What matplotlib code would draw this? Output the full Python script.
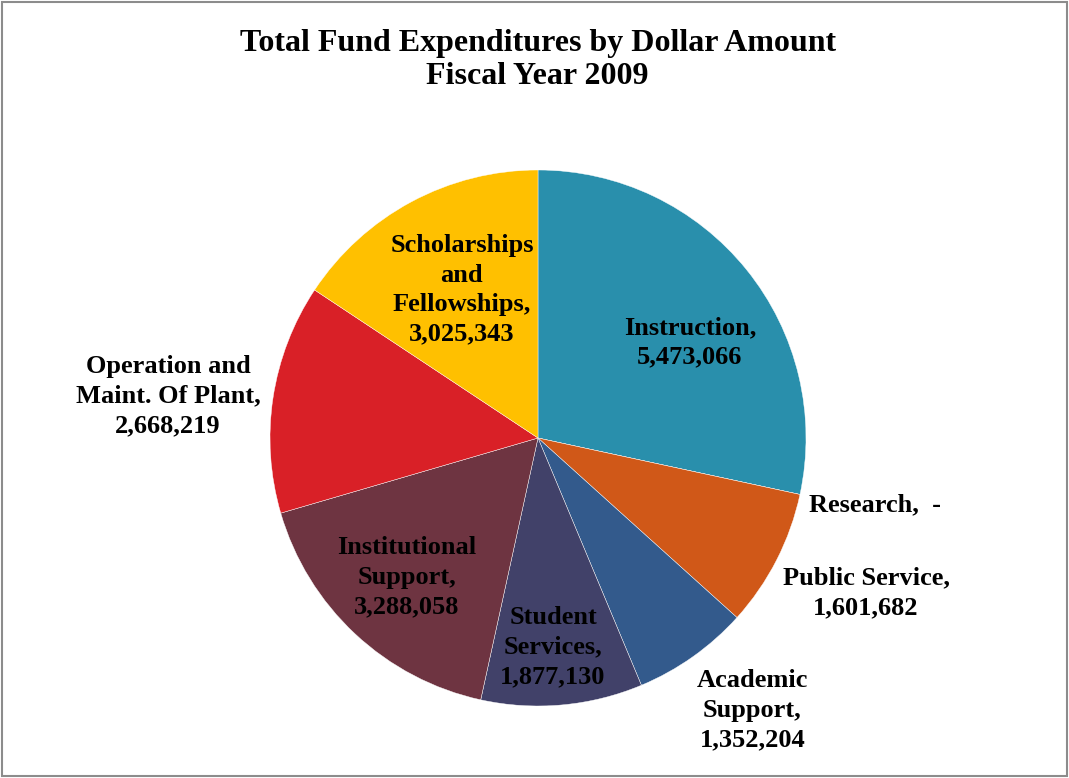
import matplotlib.pyplot as plt
from matplotlib.patches import Rectangle

categories = ['Instruction', 'Research', 'Public Service', 'Academic\nSupport',
              'Student\nServices', 'Institutional\nSupport',
              'Operation and\nMaint. Of Plant', 'Scholarships\nand\nFellowships']
values = [5473066, 0, 1601682, 1352204, 1877130, 3288058, 2668219, 3025343]
value_text = ['5,473,066', '-', '1,601,682', '1,352,204', '1,877,130',
              '3,288,058', '2,668,219', '3,025,343']
colors = ['#298FAC', '#9BBB59', '#D05818', '#335A8C', '#414169',
          '#6E3441', '#D92027', '#FFC000']

# label centres in pie-radius units (hand placed like the original)
label_pos = [(0.567, 0.358), (1.257, -0.25), (1.224, -0.578), (0.80, -1.015),
             (0.056, -0.78), (-0.489, -0.519), (-1.38, 0.157), (-0.284, 0.552)]

plt.rcParams['font.family'] = ['Liberation Serif', 'DejaVu Serif']
plt.rcParams['font.weight'] = 'bold'

fig = plt.figure(figsize=(10.69, 7.78), dpi=100)
fig.patches.append(Rectangle((0.002, 0.003), 0.996, 0.994, transform=fig.transFigure,
                             fill=False, edgecolor='#8c8c8c', linewidth=1.5))

fig.text(0.503, 1 - 60 / 778, 'Total Fund Expenditures by Dollar Amount\nFiscal Year 2009',
         ha='center', va='center', fontsize=23, fontweight='bold', linespacing=1.19)

ax = fig.add_axes([(538 - 268) / 1069, (778 - 706) / 778, 536 / 1069, 536 / 778])
ax.pie(values, colors=colors, startangle=90, counterclock=False, radius=1,
       wedgeprops=dict(edgecolor='white', linewidth=0.3))
ax.set_xlim(-1, 1)
ax.set_ylim(-1, 1)
ax.set_aspect('equal')
ax.axis('off')

for cat, vt, (x, y) in zip(categories, value_text, label_pos):
    if vt == '-':
        txt = cat + ',  -'
    else:
        txt = cat + ',\n' + vt
    ax.text(x, y, txt, ha='center', va='center', fontsize=19, fontweight='bold',
            linespacing=1.36, clip_on=False)

fig.savefig('out.png', dpi=100)
